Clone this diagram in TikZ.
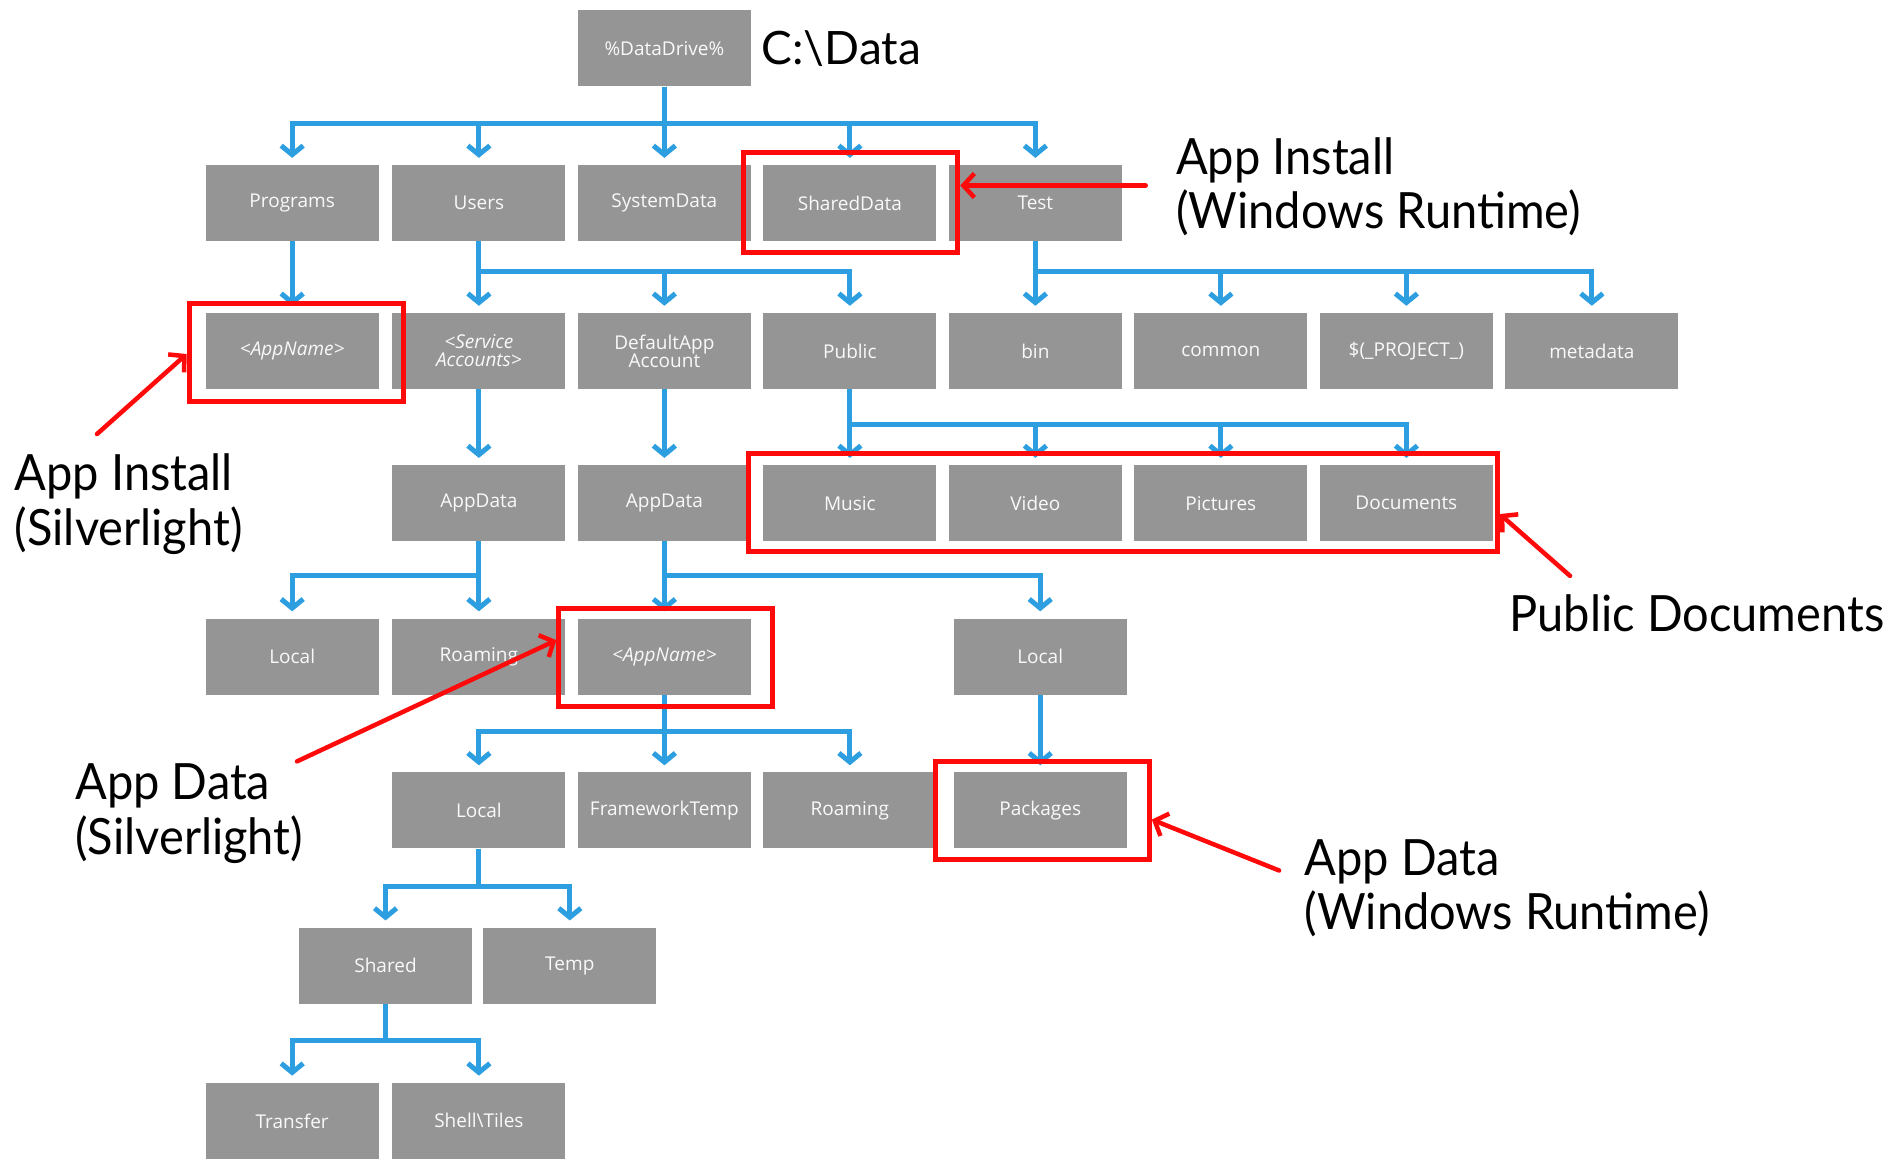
\documentclass[tikz,border=0pt]{standalone}
\usepackage{fontspec}
\setmainfont{Lato}[FakeStretch=0.94]
\newfontfamily\drivefont{Lato}
\newfontfamily\boxfont{Open Sans}
\usetikzlibrary{arrows.meta,fit,calc}
\definecolor{boxgray}{HTML}{959595}
\definecolor{wire}{HTML}{2D9FE0}
\definecolor{hlred}{HTML}{FF0A0A}
\begin{document}
\begin{tikzpicture}[x=1.2124pt,y=-1.2124pt,
  folder/.style={fill=boxgray,text=white!95!gray,font=\boxfont\fontsize{19}{21}\selectfont,
    minimum width=173pt,minimum height=76pt,inner sep=0pt,align=center},
  tree/.style={draw=wire,line width=5pt,line join=miter,
    -{Straight Barb[length=9pt,width=22pt]},shorten >=7pt},
  frame/.style={draw=hlred,line width=5pt,inner sep=0pt},
  callout/.style={draw=hlred,line width=4.5pt,line cap=round,
    -{Straight Barb[length=11pt,width=24pt]}},
  note/.style={font=\fontsize{50}{54.6}\selectfont,align=left,anchor=north west,inner sep=0pt}]
\clip (0,0) rectangle (1568,956);
\useasboundingbox (0,0) rectangle (1568,956);
\fill[white] (0,0) rectangle (1568,956);

% folder tree
\node[folder] (root) at (548,40) {\%DataDrive\%};
\node[anchor=west,inner sep=0pt,font=\drivefont\fontsize{46}{50}\selectfont] (drive) at (628,40) {C:\textbackslash Data};

\node[folder] (prog)    at (241,167.5) {Programs};
\node[folder] (users)   at (395,167.5) {Users};
\node[folder] (sysdata) at (548,167.5) {SystemData};
\node[folder] (shared)  at (701,167.5) {SharedData};
\node[folder] (test)    at (854,167.5) {Test};

\node[folder] (app1)    at (241,289.5) {\itshape <AppName>};
\node[folder] (svc)     at (395,289.5) {\itshape <Service\\[-3pt]\itshape Accounts>};
\node[folder] (defacc)  at (548,289.5) {DefaultApp\\[-3pt]Account};
\node[folder] (public)  at (701,289.5) {Public};
\node[folder] (bin)     at (854,289.5) {bin};
\node[folder] (common)  at (1007,289.5) {common};
\node[folder] (project) at (1160,289.5) {\$(\_PROJECT\_)};
\node[folder] (meta)    at (1313,289.5) {metadata};

\node[folder] (appdata1) at (395,415) {AppData};
\node[folder] (appdata2) at (548,415) {AppData};
\node[folder] (music)    at (701,415) {Music};
\node[folder] (video)    at (854,415) {Video};
\node[folder] (pictures) at (1007,415) {Pictures};
\node[folder] (docs)     at (1160,415) {Documents};

\node[folder] (local1)   at (241,541.5) {Local};
\node[folder] (roaming1) at (395,541.5) {Roaming};
\node[folder] (app2)     at (548,541.5) {\itshape <AppName>};
\node[folder] (local2)   at (858,541.5) {Local};

\node[folder] (local3)   at (395,668.5) {Local};
\node[folder] (fwtemp)   at (548,668.5) {FrameworkTemp};
\node[folder] (roaming2) at (701,668.5) {Roaming};
\node[folder] (packages) at (858,668.5) {Packages};

\node[folder] (shared2)  at (318,796.5) {Shared};
\node[folder] (temp)     at (470,796.5) {Temp};

\node[folder] (transfer) at (241,924.5) {Transfer};
\node[folder] (tiles)    at (395,924.5) {Shell\textbackslash Tiles};

% connectors
\foreach \c in {prog,users,sysdata,shared,test}
  \draw[tree] (root.south) -- (root.south |- 0,102) -| (\c.north);
\draw[tree] (prog.south) -- (app1.north);
\foreach \c in {svc,defacc,public}
  \draw[tree] (users.south) -- (users.south |- 0,224) -| (\c.north);
\foreach \c in {bin,common,project,meta}
  \draw[tree] (test.south) -- (test.south |- 0,224) -| (\c.north);
\draw[tree] (svc.south) -- (appdata1.north);
\draw[tree] (defacc.south) -- (appdata2.north);
\foreach \c in {music,video,pictures,docs}
  \draw[tree] (public.south) -- (public.south |- 0,350) -| (\c.north);
\foreach \c in {local1,roaming1}
  \draw[tree] (appdata1.south) -- (appdata1.south |- 0,475) -| (\c.north);
\foreach \c in {app2,local2}
  \draw[tree] (appdata2.south) -- (appdata2.south |- 0,475) -| (\c.north);
\foreach \c in {local3,fwtemp,roaming2}
  \draw[tree] (app2.south) -- (app2.south |- 0,603) -| (\c.north);
\draw[tree] (local2.south) -- (packages.north);
\foreach \c in {shared2,temp}
  \draw[tree] (local3.south) -- (local3.south |- 0,731) -| (\c.north);
\foreach \c in {transfer,tiles}
  \draw[tree] (shared2.south) -- (shared2.south |- 0,858) -| (\c.north);

% highlight frames
\node[frame,fit={(613,126) (790,208)}] (hlShared) {};
\node[frame,fit={(156,250) (333,331)}] (hlApp1) {};
\node[frame,fit={(617,374) (1235,455)}] (hlPub) {};
\node[frame,fit={(461,502) (637,583)}] (hlApp2) {};
\node[frame,fit={(772,628) (948,709)}] (hlPkg) {};

% notes
\node[note] (nInstRT) at (970,113) {App Install\\(Windows Runtime)};
\node[note] (nInstSL) at (12,374) {App Install\\(Silverlight)};
\node[note] (nPub) at (1245,490) {Public Documents};
\node[note] (nDataSL) at (62,630) {App Data\\(Silverlight)};
\node[note] (nDataRT) at (1076,692) {App Data\\(Windows Runtime)};

% callout arrows
\coordinate (t1) at (945,153);
\coordinate (t2) at (80,358);
\coordinate (t3) at (1295,475);
\coordinate (t4) at (245,628);
\coordinate (t5) at (1055,718);
\draw[callout] (t1) -- (t1 -| hlShared.east);
\draw[callout] (t2) -- (hlApp1.west |- 0,292);
\draw[callout] (t3) -- (hlPub.east |- 0,424);
\draw[callout] (t4) -- (hlApp2.west |- 0,528);
\draw[callout] (t5) -- (hlPkg.east |- 0,676);
\end{tikzpicture}
\end{document}
